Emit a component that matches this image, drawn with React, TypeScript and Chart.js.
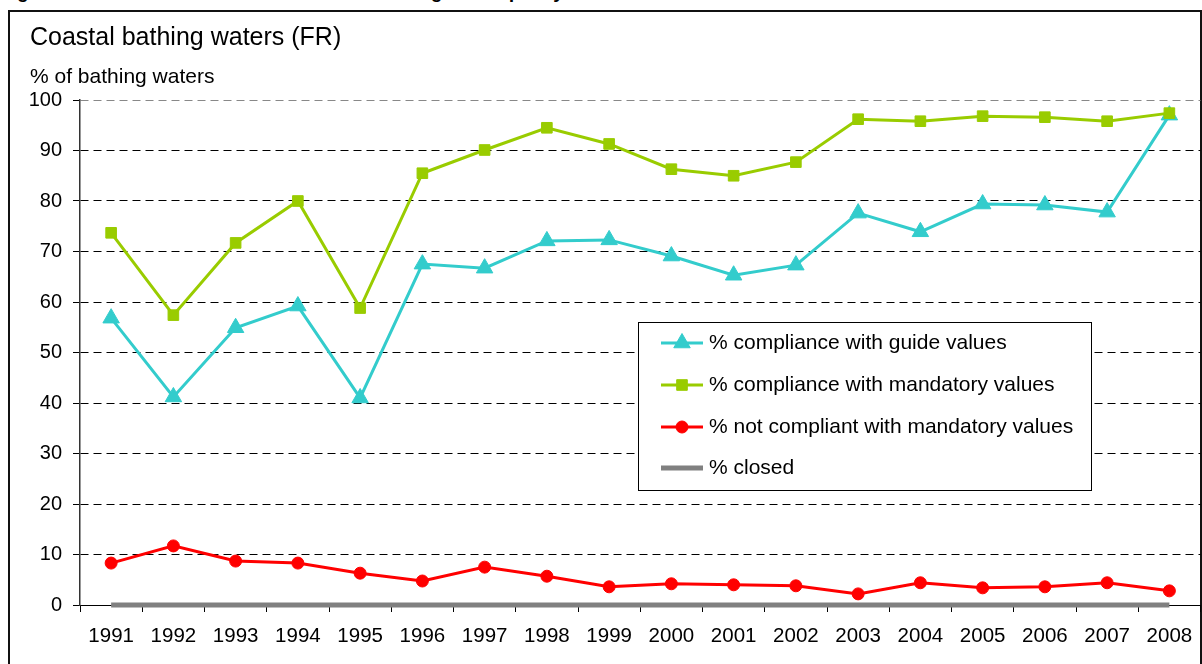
import React, { useEffect, useRef } from "react";
import { Chart, registerables } from "chart.js";

Chart.register(...registerables);

const FONT = '"Liberation Sans", Arial, sans-serif';

const years = ["1991", "1992", "1993", "1994", "1995", "1996", "1997", "1998", "1999", "2000", "2001", "2002", "2003", "2004", "2005", "2006", "2007", "2008"];
const guideValues = [56.8, 41.2, 54.9, 59.2, 41.0, 67.5, 66.7, 72.1, 72.3, 69.1, 65.3, 67.3, 77.6, 73.9, 79.4, 79.2, 77.8, 97.0];
const mandatoryValues = [73.7, 57.4, 71.7, 80.0, 58.8, 85.5, 90.1, 94.5, 91.3, 86.3, 85.0, 87.7, 96.2, 95.8, 96.8, 96.6, 95.8, 97.4];
const notCompliantValues = [8.3, 11.7, 8.7, 8.3, 6.3, 4.75, 7.5, 5.7, 3.6, 4.2, 4.0, 3.8, 2.2, 4.4, 3.4, 3.6, 4.4, 2.8];
const closedValues = [0, 0, 0, 0, 0, 0, 0, 0, 0, 0, 0, 0, 0, 0, 0, 0, 0, 0];

const seriesLabels = [
  "% compliance with guide values",
  "% compliance with mandatory values",
  "% not compliant with mandatory values",
  "% closed",
];
const seriesColors = ["#33CCCC", "#99CC00", "#FF0000", "#808080"];

const captionText = "Figure 1: Evolution of the French coastal bathing water quality";
const titleText = "Coastal bathing waters (FR)";
const yAxisTitle = "% of bathing waters";

function drawMarker(ctx: CanvasRenderingContext2D, style: string, r: number, x: number, y: number) {
  ctx.beginPath();
  if (style === "triangle") {
    let rad = 0;
    ctx.moveTo(x + Math.sin(rad) * r, y - Math.cos(rad) * r);
    rad += (2 * Math.PI) / 3;
    ctx.lineTo(x + Math.sin(rad) * r, y - Math.cos(rad) * r);
    rad += (2 * Math.PI) / 3;
    ctx.lineTo(x + Math.sin(rad) * r, y - Math.cos(rad) * r);
    ctx.closePath();
  } else if (style === "rect") {
    const s = r * Math.SQRT1_2;
    ctx.rect(x - s, y - s, 2 * s, 2 * s);
  } else {
    ctx.arc(x, y, r, 0, Math.PI * 2);
    ctx.closePath();
  }
  ctx.fill();
  ctx.stroke();
}

export default function App() {
  const ref = useRef<HTMLCanvasElement>(null);

  useEffect(() => {
    document.body.style.margin = "0";
    const canvas = ref.current;
    if (!canvas) return;

    const boxLegend = {
      id: "boxLegend",
      afterDraw(chart: any) {
        const ctx = chart.ctx as CanvasRenderingContext2D;
        const left = 638.5, top = 322.5, right = 1091.5, bottom = 490.5;
        ctx.save();
        ctx.fillStyle = "#fff";
        ctx.fillRect(left, top, right - left, bottom - top);
        ctx.strokeStyle = "#000";
        ctx.lineWidth = 1;
        ctx.strokeRect(left, top, right - left, bottom - top);
        const rows = [343, 385, 427, 468];
        chart.data.datasets.forEach((ds: any, i: number) => {
          const y = rows[i];
          ctx.save();
          ctx.strokeStyle = ds.borderColor;
          ctx.lineWidth = ds.borderWidth;
          ctx.beginPath();
          ctx.moveTo(661, y);
          ctx.lineTo(703, y);
          ctx.stroke();
          ctx.restore();
          if (ds.pointRadius > 0) {
            ctx.save();
            ctx.fillStyle = ds.pointBackgroundColor;
            ctx.strokeStyle = ds.pointBorderColor;
            ctx.lineWidth = ds.pointBorderWidth;
            drawMarker(ctx, ds.pointStyle, ds.pointRadius, 682, y);
            ctx.restore();
          }
          ctx.save();
          ctx.fillStyle = "#000";
          ctx.font = `21px ${FONT}`;
          ctx.textBaseline = "middle";
          ctx.textAlign = "left";
          ctx.fillText(seriesLabels[i], 709, y);
          ctx.restore();
        });
        ctx.restore();
      },
    };

    const chart = new Chart(canvas, {
      type: "line",
      data: {
        labels: years,
        datasets: [
          {
            label: seriesLabels[0],
            data: guideValues,
            borderColor: seriesColors[0],
            backgroundColor: seriesColors[0],
            borderWidth: 3,
            pointStyle: "triangle",
            pointRadius: 9.5,
            pointBorderWidth: 1,
            pointBackgroundColor: seriesColors[0],
            pointBorderColor: seriesColors[0],
            clip: false,
            order: 2,
          },
          {
            label: seriesLabels[1],
            data: mandatoryValues,
            borderColor: seriesColors[1],
            backgroundColor: seriesColors[1],
            borderWidth: 3,
            pointStyle: "rect",
            pointRadius: 7.5,
            pointBorderWidth: 1,
            pointBackgroundColor: seriesColors[1],
            pointBorderColor: seriesColors[1],
            clip: false,
            order: 1,
          },
          {
            label: seriesLabels[2],
            data: notCompliantValues,
            borderColor: seriesColors[2],
            backgroundColor: seriesColors[2],
            borderWidth: 3,
            pointStyle: "circle",
            pointRadius: 6,
            pointBorderWidth: 1,
            pointBackgroundColor: seriesColors[2],
            pointBorderColor: seriesColors[2],
            clip: false,
            order: 0,
          },
          {
            label: seriesLabels[3],
            data: closedValues,
            borderColor: seriesColors[3],
            backgroundColor: seriesColors[3],
            borderWidth: 5,
            pointRadius: 0,
            pointBorderWidth: 0,
            pointBackgroundColor: seriesColors[3],
            pointBorderColor: seriesColors[3],
            clip: false,
            order: 3,
          },
        ],
      },
      options: {
        responsive: false,
        animation: false,
        devicePixelRatio: 1,
        layout: { padding: { top: 100, right: 0, bottom: 0, left: 0 } },
        elements: { line: { tension: 0 } },
        plugins: {
          legend: { display: false },
          tooltip: { enabled: false },
          title: { display: false },
        },
        scales: {
          x: {
            offset: true,
            grid: { offset: true, drawOnChartArea: false, tickLength: 7, color: "#000" },
            border: { color: "#000", width: 1 },
            ticks: { color: "#000", font: { family: FONT, size: 20.5 }, padding: 12, autoSkip: false, maxRotation: 0 },
            afterFit: (s: any) => {
              s.height = 59;
              s.paddingLeft = 0;
              s.paddingRight = 0;
            },
          },
          y: {
            min: 0,
            max: 100,
            ticks: { stepSize: 10, color: "#000", font: { family: FONT, size: 20 }, padding: 11 },
            grid: {
              color: (c: any) => (c.tick && c.tick.value === 100 ? "#888" : "#000"),
              tickColor: "#000",
              tickLength: 7,
            },
            border: { dash: [8, 5], color: "#333", width: 1.5 },
            afterFit: (s: any) => {
              s.width = 80;
              s.paddingTop = 0;
              s.paddingBottom = 0;
            },
          },
        },
      },
      plugins: [boxLegend],
    } as any);

    return () => chart.destroy();
  }, []);

  return (
    <div style={{ position: "relative", width: 1202, height: 664, overflow: "hidden", background: "#fff", fontFamily: FONT, color: "#000" }}>
      <div style={{ position: "absolute", left: 0, top: -18, fontWeight: "bold", fontSize: 19, lineHeight: "19px", whiteSpace: "nowrap" }}>{captionText}</div>
      <div style={{ position: "absolute", left: 8, top: 10, width: 1190, height: 700, borderLeft: "2px solid #111", borderTop: "2px solid #111", borderRight: "2px solid #111" }} />
      <canvas ref={ref} width={1211} height={664} style={{ position: "absolute", left: 0, top: 0 }} />
      <div style={{ position: "absolute", left: 30, top: 23.5, fontSize: 25, lineHeight: "25px", whiteSpace: "nowrap" }}>{titleText}</div>
      <div style={{ position: "absolute", left: 30, top: 64.5, fontSize: 21, lineHeight: "21px", whiteSpace: "nowrap" }}>{yAxisTitle}</div>
    </div>
  );
}
